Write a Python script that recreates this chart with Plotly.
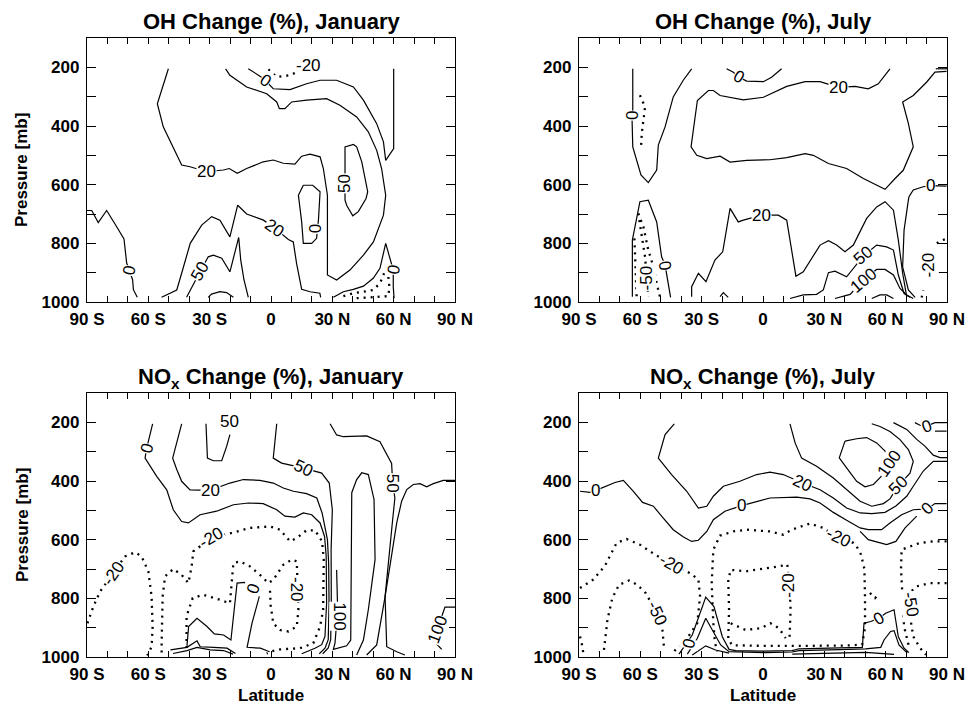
import plotly.graph_objects as go

# ---------------- DATA (latitude in deg, pressure in mb) ----------------
# Panel A: OH change, January
ohjan_0a_lat = [-90, -87.7, -84.5, -80.4, -76.3, -71.9, -70.6, -69.0, -67.7, -67.3, -65.4]
ohjan_0a_p = [688, 688, 729, 688, 734, 785, 867, 895, 924, 958, 984]
ohjan_20a_lat = [-50.2, -55.6, -52.7, -47.8, -43.7, -39.6, -31.5, -23.3, -20.4, -16.5, -11.9, -3.8, 1.1, 6.0, 11.7,
                 15.0, 19.1, 24.0, 25.6, 27.6, 27.6, 32.1, 38.6, 45.2, 50.1, 55.0, 56.1, 54.1, 51.7, 47.6, 41.9,
                 33.7, 27.2, 17.4, 10.1, 6.8, 4.1, 2.8, -2.1, -11.9, -20.1, -22.2]
ohjan_20a_p = [205, 324, 403, 476, 533, 539, 556, 550, 545, 561, 545, 522, 516, 527, 530, 503, 496, 505, 545, 636,
               908, 925, 891, 840, 795, 704, 636, 545, 483, 420, 369, 329, 307, 312, 318, 341, 341, 318, 290, 267,
               227, 205]
ohjan_0b_lat = [-11.1, -5.4, -2.9, 1.1, 9.3, 17.4, 24.0, 32.1, 40.3, 45.2, 51.7, 55.0, 56.1, 60.0, 60.0]
ohjan_0b_p = [205, 230, 244, 273, 276, 256, 244, 244, 267, 312, 392, 454, 517, 477, 205]
ohjan_m20a_lat = [-1.3, 2.8, 9.3, 12.6]
ohjan_m20a_p = [207, 233, 227, 216]
ohjan_50a_lat = [36.2, 36.2, 40.3, 41.9, 44.4, 47.3, 46.5, 42.7, 40.0, 37.0, 36.2, 36.2]
ohjan_50a_p = [539, 471, 463, 471, 522, 624, 647, 692, 706, 670, 653, 539]
ohjan_0c_lat = [15.8, 20.4, 24.0, 23.2, 22.3, 19.9, 15.8, 15.0, 13.4, 15.8]
ohjan_0c_p = [602, 602, 624, 721, 783, 800, 800, 727, 636, 602]
ohjan_20b_lat = [-53.5, -46.1, -43.7, -39.5, -33.9, -29.0, -25.0, -20.1, -16.3, -11.9, -3.7, 1.9, 8.5, 10.9, 12.5,
                 15.0, 19.1, 23.9, 24.3]
ohjan_20b_p = [984, 959, 902, 800, 738, 709, 721, 778, 670, 700, 721, 749, 787, 795, 868, 957, 965, 970, 984]
ohjan_50b_lat = [-41.3, -38.8, -34.7, -30.7, -28.2, -24.1, -20.1, -15.8, -14.8, -13.2, -11.1]
ohjan_50b_p = [984, 950, 897, 846, 840, 851, 897, 780, 857, 925, 984]
ohjan_100a_lat = [-30.7, -29.1, -25.0, -21.7, -18.4]
ohjan_100a_p = [984, 973, 965, 968, 984]
ohjan_0d_lat = [30.5, 35.4, 40.3, 45.2, 50.0, 53.3, 56.1, 57.9, 59.8, 59.8, 60.2]
ohjan_0d_p = [984, 965, 957, 946, 919, 885, 800, 846, 891, 948, 987]
ohjan_m20b_lat = [35.4, 40.3, 45.2, 50.0, 53.3, 55.7, 56.6]
ohjan_m20b_p = [980, 970, 965, 959, 936, 897, 880]
ohjan_m50a_lat = [41.9, 48.4, 53.3, 57.4, 57.9, 57.4]
ohjan_m50a_p = [987, 984, 982, 980, 948, 914]

# Panel B: OH change, July
ohjul_0a_lat = [-63.7, -63.7, -64.1, -63.7, -59.7, -56.1, -52.0, -51.2, -47.9, -43.9, -39.0, -34.9]
ohjul_0a_p = [205, 346, 363, 471, 567, 593, 550, 465, 403, 301, 244, 205]
ohjul_m20a_lat = [-60.2, -57.7, -58.5, -59.3, -59.7]
ohjul_m20a_p = [295, 335, 380, 425, 476]
ohjul_0b_lat = [-17.8, -14.5, -12.1, -8.0, 0.2, 4.2, 9.1]
ohjul_0b_p = [205, 217, 232, 247, 249, 234, 205]
ohjul_20a_lat = [62.1, 56.4, 51.5, 45.0, 36.9, 27.9, 20.6, 11.6, 0.2, -9.6, -21.0, -24.3, -26.7, -32.1, -35.2,
                 -32.4, -27.5, -21.0, -16.1, -8.0, 3.4, 11.6, 20.6, 24.6, 32.0, 40.9, 49.1, 59.7, 64.6, 68.6,
                 73.5, 71.1, 68.3, 73.5, 80.1, 84.1, 89.8]
ohjul_20a_p = [205, 256, 273, 265, 268, 249, 249, 265, 302, 311, 296, 279, 279, 313, 471, 500, 511, 503, 523, 517,
               515, 508, 494, 500, 528, 545, 579, 616, 579, 551, 471, 391, 318, 296, 250, 216, 214]
ohjul_20b_lat = [84.5, 90]
ohjul_20b_p = [205, 205]
ohjul_0c_lat = [-63.9, -63.9, -60.2, -56.1, -52.0, -49.6, -47.9, -46.3, -45.2]
ohjul_0c_p = [982, 789, 658, 653, 727, 846, 874, 948, 984]
ohjul_m20b_lat = [-61.0, -58.5, -56.1, -53.6, -52.0, -50.4]
ohjul_m20b_p = [698, 744, 823, 880, 937, 982]
ohjul_m50a_lat = [-62.9, -62.6, -62.1, -61.8]
ohjul_m50a_p = [783, 857, 925, 982]
ohjul_m50b_lat = [-60.5, -59.3, -57.7, -56.1]
ohjul_m50b_p = [721, 778, 846, 982]
ohjul_20c_lat = [-34.9, -34.9, -31.6, -27.9, -23.5, -19.7, -16.1, -12.1, -9.6, -0.7, 7.5, 11.6, 13.2, 16.1, 19.7,
                 27.9, 32.0, 36.0, 40.1, 44.2, 47.4, 50.7, 55.6, 59.7, 63.8, 66.2, 68.3, 70.3]
ohjul_20c_p = [982, 948, 902, 931, 857, 829, 681, 727, 721, 704, 704, 721, 789, 912, 897, 806, 791, 806, 829, 806,
               761, 715, 676, 658, 687, 789, 902, 982]
ohjul_50a_lat = [13.2, 19.7, 26.2, 29.5, 32.0, 35.2, 40.9, 45.0, 49.1, 55.6, 60.5, 63.8, 66.2, 69.0, 71.9]
ohjul_50a_p = [988, 976, 974, 959, 900, 895, 914, 880, 843, 806, 812, 823, 908, 971, 984]
ohjul_100a_lat = [35.2, 42.6, 49.1, 55.6, 59.7, 63.8, 67.0, 70.3, 73.5]
ohjul_100a_p = [988, 974, 925, 889, 889, 908, 954, 976, 988]
ohjul_200a_lat = [53.2, 57.2, 60.5, 63.8]
ohjul_200a_p = [988, 976, 976, 988]
ohjul_50b_lat = [-21.0, -19.4, -17.0]
ohjul_50b_p = [982, 968, 984]
ohjul_0d_lat = [89.8, 85.3, 82.0, 78.4, 73.5, 71.4, 71.1, 69.0, 68.3, 71.1, 74.4]
ohjul_0d_p = [605, 605, 603, 607, 618, 641, 653, 755, 880, 959, 984]
ohjul_m20c_lat = [77.6, 78.4]
ohjul_m20c_p = [985, 960]
ohjul_m20d_lat = [85.0, 87.4, 89.5]
ohjul_m20d_p = [800, 790, 785]

# Panel C: NOx change, January
noxjan_0a_lat = [-57.9, -59.7, -60.8, -61.6, -60.0, -55.9, -51.0, -47.8, -43.7, -40.4, -34.7, -26.6, -18.4, -11.1,
                 -3.8, 2.8, 6.8, 11.7, 15.8, 19.9, 24.0, 26.2, 27.0, 27.2, 26.4, 24.8, 21.5, 15.0]
noxjan_0a_p = [205, 253, 288, 322, 339, 384, 430, 498, 538, 543, 515, 503, 481, 475, 477, 498, 520, 523, 509, 515,
               543, 589, 657, 816, 930, 958, 970, 989]
noxjan_20a_lat = [-43.7, -48.1, -46.1, -43.7, -39.6, -29.8, -20.1, -13.5, -5.4, 1.1, 6.0, 11.0, 17.4, 22.4, 25.0,
                  27.6, 28.2, 28.4, 28.0, 26.4, 23.6]
noxjan_20a_p = [205, 322, 361, 401, 430, 432, 407, 395, 398, 407, 424, 435, 443, 458, 509, 600, 680, 816, 941, 970,
                989]
noxjan_50a_lat = [-31.8, -31.1, -28.2, -24.1, -21.7, -20.1]
noxjan_50a_p = [205, 322, 331, 331, 282, 242]
noxjan_50b_lat = [2.8, 1.1, 5.2, 16.1, 24.8, 28.5, 30.0, 29.4, 29.5, 29.2, 28.0, 25.3]
noxjan_50b_p = [205, 322, 339, 356, 373, 407, 498, 634, 816, 941, 969, 989]
noxjan_100a_lat = [32.1, 32.6, 31.3, 30.5, 37.0, 39.0, 39.5, 41.9, 44.4, 47.6, 50.4, 50.9, 47.6, 45.2, 41.9]
noxjan_100a_p = [703, 839, 953, 974, 962, 942, 440, 395, 372, 378, 463, 668, 839, 942, 993]
noxjan_50c_lat = [28.9, 32.1, 35.4, 46.8, 53.3, 59.0, 59.5, 60.6, 59.5, 57.4, 55.8, 56.6, 61.5, 65.5]
noxjan_50c_p = [205, 243, 249, 246, 266, 340, 408, 458, 532, 680, 794, 965, 982, 993]
noxjan_50d_lat = [90, 84.3, 79.4, 76.1, 72.9, 69.6, 66.4, 63.9, 61.5, 58.2, 55.8, 51.7, 46.8]
noxjan_50d_p = [398, 398, 409, 420, 409, 412, 429, 469, 543, 691, 794, 959, 993]
noxjan_100b_lat = [90, 85.1, 83.5, 81.4, 80.7, 83.5]
noxjan_100b_p = [830, 830, 862, 905, 953, 974]
noxjan_m20a_lat = [-89.8, -86.9, -83.6, -77.1, -71.4, -66.5, -63.3, -60.0, -58.4, -57.9, -58.4, -60.5]
noxjan_m20a_p = [885, 828, 777, 714, 657, 643, 657, 708, 794, 896, 965, 995]
noxjan_m20b_lat = [-53.5, -53.5, -53.0, -51.8, -47.8, -43.7, -40.4, -38.8, -38.0, -29.0, -19.2, -10.3, -0.5, 4.4,
                   9.3, 12.6, 17.4, 21.5, 25.0, 25.8, 25.5, 24.0, 20.7, 14.2, 4.4, -0.5, -2.1]
noxjan_m20b_p = [985, 953, 794, 725, 700, 720, 748, 691, 640, 594, 577, 560, 555, 566, 606, 594, 568, 568, 606, 668,
                 839, 896, 953, 970, 974, 982, 988]
noxjan_m20c_lat = [-41.3, -41.3, -38.3, -33.1, -24.9, -20.1, -18.4, -15.2, -10.3, -5.4, -1.3, 1.1, 6.0, 10.1, 12.6,
                   12.9, 13.4, 12.6, 8.5, 4.4, 1.1, -0.2, -0.5]
noxjan_m20c_p = [969, 861, 799, 788, 805, 817, 680, 674, 691, 720, 748, 737, 686, 668, 674, 748, 839, 896, 913, 908,
                 885, 822, 771]
noxjan_0b_lat = [-41.1, -40.3, -36.2, -31.3, -27.7, -23.2, -19.6, -18.3, -16.6, -13.0, -8.8, -5.5, -9.3, -11.7,
                 -5.2, -0.7]
noxjan_0b_p = [962, 896, 868, 896, 921, 925, 942, 851, 748, 746, 769, 788, 885, 967, 970, 982]
noxjan_20b_lat = [-49.2, -41.1, -36.2, -34.6, -28.0, -21.5, -17.4]
noxjan_20b_p = [976, 967, 945, 965, 967, 970, 988]
noxjan_50e_lat = [-47.9, -41.1, -36.2, -29.7, -23.2, -18.6]
noxjan_50e_p = [988, 978, 967, 976, 978, 990]

# Panel D: NOx change, July
noxjul_0a_lat = [-89.5, -84.6, -81.7, -76.5, -72.4, -68.3, -63.4, -58.9, -53.6, -49.6, -43.9, -38.9, -34.9, -31.6,
                 -27.5, -24.3, -18.6, -10.4, -3.1, 3.4, 16.5, 23.0, 27.9, 34.4, 40.9, 47.5, 51.5, 58.0, 62.1, 67.8,
                 73.5, 80.5, 84.1, 89.8]
noxjul_0a_p = [435, 439, 432, 418, 405, 398, 435, 473, 486, 520, 566, 591, 606, 602, 572, 532, 503, 484, 469, 458,
               455, 461, 475, 507, 534, 560, 566, 566, 543, 515, 498, 495, 477, 477]
noxjul_20a_lat = [-43.4, -47.9, -51.2, -44.7, -37.3, -31.6, -27.5, -24.3, -19.4, -11.3, -3.1, 3.4, 9.9, 19.4, 27.9,
                  34.4, 40.9, 47.5, 53.2, 59.7, 65.0, 70.3, 73.5, 78.4, 83.3, 90]
noxjul_20a_p = [205, 242, 322, 378, 435, 492, 486, 452, 418, 401, 378, 370, 378, 407, 430, 458, 492, 509, 511, 507,
                485, 452, 418, 366, 333, 333]
noxjul_50a_lat = [13.2, 15.7, 18.9, 26.2, 34.4, 40.9, 47.5, 53.2, 58.9, 62.1, 66.2, 71.9, 73.5, 71.1, 67.0, 62.1,
                  57.2, 53.2]
noxjul_50a_p = [205, 270, 322, 350, 390, 430, 469, 486, 477, 461, 416, 373, 333, 293, 259, 231, 214, 205]
noxjul_100a_lat = [40.1, 45.8, 50.7, 55.6, 59.7, 61.8, 57.6, 54.0, 49.9, 45.8, 40.9, 37.3, 40.1]
noxjul_100a_p = [264, 256, 252, 270, 298, 340, 386, 412, 420, 401, 355, 321, 264]
noxjul_20b_lat = [63.8, 70.3, 75.2, 79.2, 83.3, 86.6, 90]
noxjul_20b_p = [201, 224, 258, 281, 312, 320, 320]
noxjul_0b_lat = [74.3, 76.8, 80.1, 84.1, 89.8]
noxjul_0b_p = [201, 210, 213, 201, 201]
noxjul_0c_lat = [84.1, 89.8]
noxjul_0c_p = [230, 230]
noxjul_0d_lat = [47.5, 51.5, 60.5, 65.0, 69.5, 75.2]
noxjul_0d_p = [572, 600, 617, 606, 560, 520]
noxjul_m20a_lat = [-89.5, -83.0, -77.3, -71.6, -66.7, -60.2, -55.3, -44.7, -35.7, -31.6, -30.8, -32.1, -36.5, -40.6,
                   -44.2]
noxjul_m20a_p = [765, 736, 689, 611, 598, 617, 640, 685, 714, 736, 793, 884, 930, 958, 986]
noxjul_m50a_lat = [-77.8, -76.1, -73.7, -70.4, -65.5, -61.5, -57.4, -54.9, -51.7, -49.2, -48.4]
noxjul_m50a_p = [976, 874, 799, 754, 739, 754, 782, 811, 851, 908, 970]
noxjul_m20b_lat = [-89.5, -88.7, -87.9]
noxjul_m20b_p = [930, 952, 986]
noxjul_m20c_lat = [13.0, 13.5, 13.0, 11.9, 7.8, 1.3, -8.5, -15.8, -17.0, -16.6, -17.0, -15.0, 0, 20, 40, 48.5, 49.9,
                   49.9, 49.6, 47.9, 45.4, 44.2, 36.9, 29.5, 23.0, 14.0, 9.9, 3.4, -8.0, -14.5, -21.0, -24.3, -25.1,
                   -24.3, -23.5, -22.3]
noxjul_m20c_p = [931, 839, 760, 685, 691, 697, 708, 703, 737, 839, 940, 960, 962, 962, 961, 958, 900, 800, 700, 650,
                 618, 611, 594, 560, 545, 566, 583, 572, 566, 572, 586, 634, 748, 884, 952, 981]
noxjul_m50b_lat = [-15.8, -8.5, -1.1, 3.7, 7.8, 11.1]
noxjul_m50b_p = [885, 908, 902, 885, 902, 936]
noxjul_m20d_lat = [89.8, 83.3, 76.8, 71.9, 67.8, 67.5, 68.2, 69.0, 71.4]
noxjul_m20d_p = [606, 606, 611, 623, 634, 700, 782, 896, 965]
noxjul_m50c_lat = [89.8, 81.7, 75.2, 71.6, 72.2, 71.9, 73.5, 76.8, 79.7]
noxjul_m50c_p = [748, 748, 759, 782, 822, 861, 930, 969, 992]
noxjul_m50d_lat = [52.3, 54.8, 56.4]
noxjul_m50d_p = [782, 799, 788]
noxjul_0e_lat = [-41.1, -34.6, -28.0, -24.0, -19.9, -16.6, -13.4, -0.3, 14.3, 17.6, 37.2, 48.6, 49.4, 52.7, 56.7,
                 60.0, 64.1, 66.2, 69.0, 71.4]
noxjul_0e_p = [990, 925, 796, 828, 931, 974, 978, 980, 978, 972, 969, 967, 885, 879, 868, 851, 839, 931, 970, 985]
noxjul_20c_lat = [-37.0, -32.1, -28.0, -24.8, -20.7, -16.6, 1.3, 14.3, 17.6, 37.2, 50.2, 57.6, 59.2, 62.4, 64.1,
                  66.5, 70.6]
noxjul_20c_p = [990, 936, 868, 908, 959, 982, 985, 983, 978, 975, 972, 967, 942, 913, 910, 959, 987]
noxjul_50b_lat = [-34.6, -28.0, -23.2, -16.6]
noxjul_50b_p = [993, 962, 976, 987]
noxjul_50c_lat = [14.3, 32.3, 50.2, 64.1]
noxjul_50c_p = [990, 986, 984, 991]

# contour sets per panel: (level, lat, p)
panel_A = [(0, ohjan_0a_lat, ohjan_0a_p), (20, ohjan_20a_lat, ohjan_20a_p), (0, ohjan_0b_lat, ohjan_0b_p),
           (-20, ohjan_m20a_lat, ohjan_m20a_p), (50, ohjan_50a_lat, ohjan_50a_p), (0, ohjan_0c_lat, ohjan_0c_p),
           (20, ohjan_20b_lat, ohjan_20b_p), (50, ohjan_50b_lat, ohjan_50b_p), (100, ohjan_100a_lat, ohjan_100a_p),
           (0, ohjan_0d_lat, ohjan_0d_p), (-20, ohjan_m20b_lat, ohjan_m20b_p), (-50, ohjan_m50a_lat, ohjan_m50a_p)]
panel_B = [(0, ohjul_0a_lat, ohjul_0a_p), (-20, ohjul_m20a_lat, ohjul_m20a_p), (0, ohjul_0b_lat, ohjul_0b_p),
           (20, ohjul_20a_lat, ohjul_20a_p), (20, ohjul_20b_lat, ohjul_20b_p), (0, ohjul_0c_lat, ohjul_0c_p),
           (-20, ohjul_m20b_lat, ohjul_m20b_p), (-50, ohjul_m50a_lat, ohjul_m50a_p),
           (-50, ohjul_m50b_lat, ohjul_m50b_p), (20, ohjul_20c_lat, ohjul_20c_p), (50, ohjul_50a_lat, ohjul_50a_p),
           (100, ohjul_100a_lat, ohjul_100a_p), (200, ohjul_200a_lat, ohjul_200a_p), (50, ohjul_50b_lat, ohjul_50b_p),
           (0, ohjul_0d_lat, ohjul_0d_p), (-20, ohjul_m20c_lat, ohjul_m20c_p), (-20, ohjul_m20d_lat, ohjul_m20d_p)]
panel_C = [(0, noxjan_0a_lat, noxjan_0a_p), (20, noxjan_20a_lat, noxjan_20a_p), (50, noxjan_50a_lat, noxjan_50a_p),
           (50, noxjan_50b_lat, noxjan_50b_p), (100, noxjan_100a_lat, noxjan_100a_p),
           (50, noxjan_50c_lat, noxjan_50c_p), (50, noxjan_50d_lat, noxjan_50d_p),
           (100, noxjan_100b_lat, noxjan_100b_p), (-20, noxjan_m20a_lat, noxjan_m20a_p),
           (-20, noxjan_m20b_lat, noxjan_m20b_p), (-20, noxjan_m20c_lat, noxjan_m20c_p),
           (0, noxjan_0b_lat, noxjan_0b_p), (20, noxjan_20b_lat, noxjan_20b_p), (50, noxjan_50e_lat, noxjan_50e_p)]
panel_D = [(0, noxjul_0a_lat, noxjul_0a_p), (20, noxjul_20a_lat, noxjul_20a_p), (50, noxjul_50a_lat, noxjul_50a_p),
           (100, noxjul_100a_lat, noxjul_100a_p), (20, noxjul_20b_lat, noxjul_20b_p),
           (0, noxjul_0b_lat, noxjul_0b_p), (0, noxjul_0c_lat, noxjul_0c_p), (0, noxjul_0d_lat, noxjul_0d_p),
           (-20, noxjul_m20a_lat, noxjul_m20a_p), (-50, noxjul_m50a_lat, noxjul_m50a_p),
           (-20, noxjul_m20b_lat, noxjul_m20b_p), (-20, noxjul_m20c_lat, noxjul_m20c_p),
           (-50, noxjul_m50b_lat, noxjul_m50b_p), (-20, noxjul_m20d_lat, noxjul_m20d_p),
           (-50, noxjul_m50c_lat, noxjul_m50c_p), (-50, noxjul_m50d_lat, noxjul_m50d_p),
           (0, noxjul_0e_lat, noxjul_0e_p), (20, noxjul_20c_lat, noxjul_20c_p), (50, noxjul_50b_lat, noxjul_50b_p),
           (50, noxjul_50c_lat, noxjul_50c_p)]

# contour labels: (text, lat, p, angle)
labels_A = [("0", -69.2, 893, -80), ("20", -31.5, 556, 0), ("-20", 18.3, 193, 0), ("0", -2.9, 244, 35),
            ("50", 35.9, 596, -90), ("0", 21.5, 749, -90), ("20", 1.9, 749, 35), ("50", -34.7, 897, -60),
            ("0", 59.8, 891, -80)]
labels_B = [("0", -64.1, 363, -90), ("0", -12.1, 232, 30), ("20", 36.9, 268, 0), ("20", -0.7, 704, 0),
            ("0", -47.9, 874, 80), ("-50", -57.0, 918, -90), ("50", 49.1, 843, -40), ("100", 49.1, 925, -40),
            ("-20", 80.9, 874, -90), ("0", 82.0, 603, 0)]
labels_C = [("0", -60.8, 288, -75), ("20", -29.8, 432, 0), ("50", -20.1, 197, 0), ("50", 16.1, 356, 25),
            ("50", 59.5, 408, 90), ("-20", -29.0, 594, -30), ("-20", -77.1, 714, -55), ("-20", 12.5, 770, 90),
            ("0", -8.8, 769, -70), ("100", 33.4, 862, 90), ("100", 81.4, 905, -70)]
labels_D = [("0", -81.7, 432, 0), ("0", -10.4, 484, 0), ("20", 19.4, 407, 25), ("100", 61.8, 340, -55),
            ("50", 66.2, 416, -45), ("0", 80.5, 495, -45), ("0", 80.1, 213, -20), ("-20", -44.7, 685, 30),
            ("-50", -51.7, 851, 65), ("-20", 36.9, 594, 25), ("-20", 12.7, 754, -90), ("-50", 72.2, 822, 80),
            ("0", -36.2, 953, -75), ("0", 56.7, 868, -30)]

titles = ["<b>OH Change (%), January</b>", "<b>OH Change (%), July</b>",
          "<b>NO<sub>x</sub> Change (%), January</b>", "<b>NO<sub>x</sub> Change (%), July</b>"]
lat_ticks = [-90, -60, -30, 0, 30, 60, 90]
lat_labels = ["90 S", "60 S", "30 S", "0", "30 N", "60 N", "90 N"]
p_ticks = [200, 400, 600, 800, 1000]

# ---------------- FIGURE ----------------
W, H = 969, 707
FONT = "Liberation Sans, Arial, Helvetica, sans-serif"
xdom = {1: [87 / W, 455 / W], 2: [579 / W, 947 / W], 3: [87 / W, 455 / W], 4: [579 / W, 947 / W]}
ydom = {1: [1 - 302 / H, 1 - 38 / H], 2: [1 - 302 / H, 1 - 38 / H],
        3: [1 - 657 / H, 1 - 393 / H], 4: [1 - 657 / H, 1 - 393 / H]}

fig = go.Figure()
panels = [panel_A, panel_B, panel_C, panel_D]
label_sets = [labels_A, labels_B, labels_C, labels_D]

for i, (pan, labs) in enumerate(zip(panels, label_sets), start=1):
    xa = "x" if i == 1 else f"x{i}"
    ya = "y" if i == 1 else f"y{i}"
    for level, lat, p in pan:
        if level < 0:
            line = dict(color="black", width=2.3, dash="2px,5px")
        else:
            line = dict(color="black", width=1.2)
        fig.add_trace(go.Scatter(x=lat, y=p, mode="lines", line=line, xaxis=xa, yaxis=ya,
                                 showlegend=False, hoverinfo="skip"))
    for txt, la, pr, ang in labs:
        fig.add_annotation(x=la, y=pr, xref=xa, yref=ya, text=txt, showarrow=False, textangle=ang,
                           font=dict(family=FONT, size=17, color="black"), bgcolor="white", borderpad=0)

tickvals_x = list(range(-90, 91, 10))
ticktext_x = [f"<b>{lat_labels[lat_ticks.index(v)]}</b>" if v in lat_ticks else "" for v in tickvals_x]
tickvals_y = list(range(100, 1001, 100))
ticktext_y = [f"<b>{v}</b>" if v in p_ticks else "" for v in tickvals_y]

layout = dict(width=W, height=H, margin=dict(l=0, r=0, t=0, b=0, autoexpand=False), paper_bgcolor="white",
              plot_bgcolor="white", font=dict(family=FONT, color="black"), showlegend=False)
for i in range(1, 5):
    xk = "xaxis" if i == 1 else f"xaxis{i}"
    yk = "yaxis" if i == 1 else f"yaxis{i}"
    layout[xk] = dict(domain=xdom[i], range=[-90, 90], anchor="y" if i == 1 else f"y{i}",
                      tickmode="array", tickvals=tickvals_x, ticktext=ticktext_x, ticks="inside", ticklen=6,
                      tickwidth=1, tickcolor="black", showline=True, linecolor="black", linewidth=1.3,
                      mirror="ticks", showgrid=False, zeroline=False, ticklabelstandoff=1, tickangle=0,
                      automargin=False, tickfont=dict(family=FONT, size=17, color="black"))
    layout[yk] = dict(domain=ydom[i], range=[1000, 100], anchor="x" if i == 1 else f"x{i}",
                      tickmode="array", tickvals=tickvals_y, ticktext=ticktext_y, ticks="inside", ticklen=9,
                      tickwidth=1, tickcolor="black", showline=True, linecolor="black", linewidth=1.3,
                      mirror="ticks", showgrid=False, zeroline=False, ticklabelstandoff=3, tickangle=0,
                      automargin=False, tickfont=dict(family=FONT, size=17, color="black"))
fig.update_layout(**layout)

# panel titles
title_pos = [(271 / W, 1 - 22 / H), (763 / W, 1 - 22 / H), (271 / W, 1 - 378 / H), (763 / W, 1 - 378 / H)]
for t, (tx, ty) in zip(titles, title_pos):
    fig.add_annotation(x=tx, y=ty, xref="paper", yref="paper", text=t, showarrow=False,
                       font=dict(family=FONT, size=22, color="black"), xanchor="center", yanchor="middle")
# axis titles
for ty in [1 - 170 / H, 1 - 525 / H]:
    fig.add_annotation(x=22 / W, y=ty, xref="paper", yref="paper", text="<b>Pressure [mb]</b>", showarrow=False,
                       textangle=-90, font=dict(family=FONT, size=17, color="black"),
                       xanchor="center", yanchor="middle")
for tx in [271 / W, 763 / W]:
    fig.add_annotation(x=tx, y=1 - 695 / H, xref="paper", yref="paper", text="<b>Latitude</b>", showarrow=False,
                       font=dict(family=FONT, size=17, color="black"), xanchor="center", yanchor="middle")

fig.write_html("out.html", config={"displayModeBar": False},
               post_script="document.body.style.margin='0';document.body.style.overflow='hidden';")
